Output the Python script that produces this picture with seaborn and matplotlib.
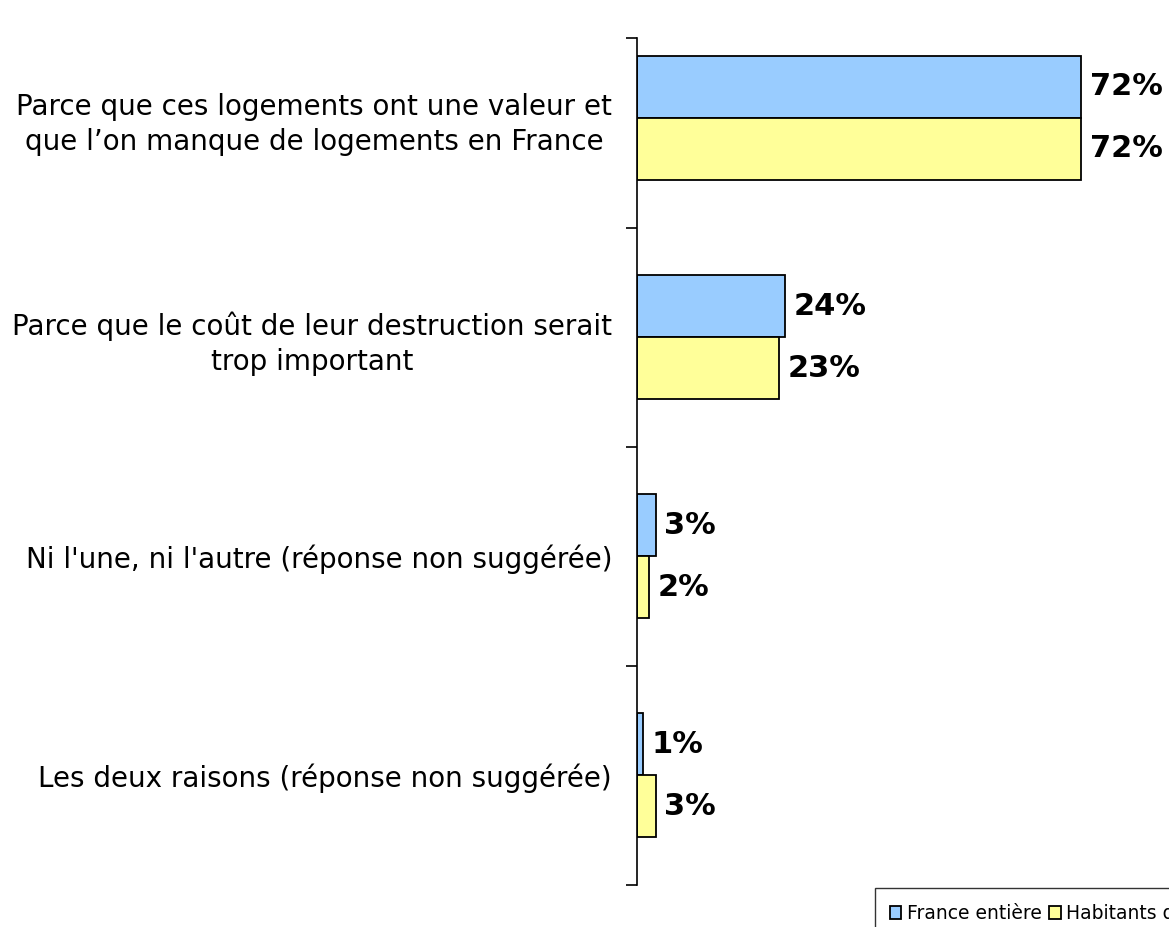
import matplotlib
matplotlib.use("Agg")
import matplotlib.pyplot as plt
import seaborn as sns
import pandas as pd

categories = [
    "Parce que ces logements ont une valeur et\nque l\u2019on manque de logements en France",
    "Parce que le co\u00fbt de leur destruction serait\ntrop important",
    "Ni l'une, ni l'autre (r\u00e9ponse non sugg\u00e9r\u00e9e)",
    "Les deux raisons (r\u00e9ponse non sugg\u00e9r\u00e9e)",
]
series = ["France enti\u00e8re", "Habitants des quartiers concern\u00e9s"]
france = [72, 24, 3, 1]
habitants = [72, 23, 2, 3]
colors = ["#99CCFF", "#FFFF99"]

df = pd.DataFrame({
    "cat": categories * 2,
    "serie": [series[0]] * 4 + [series[1]] * 4,
    "val": france + habitants,
})

sns.set_style("white")
plt.rcParams["font.family"] = ["DejaVu Sans"]
plt.rcParams["text.color"] = "black"
plt.rcParams["ytick.color"] = "black"
plt.rcParams["ytick.labelcolor"] = "black"

fig = plt.figure(figsize=(11.69, 9.27), dpi=100)
ax = fig.add_axes([637 / 1169, 1 - 885 / 927, 1 - 637 / 1169, (885 - 38) / 927])

sns.barplot(data=df, y="cat", x="val", hue="serie", orient="h",
            palette=colors, saturation=1, width=0.566, edgecolor="black", linewidth=1.3,
            ax=ax, legend=True)

for cont in ax.containers:
    ax.bar_label(cont, labels=[f"{v:.0f}%" for v in cont.datavalues],
                 padding=6, fontsize=22, fontweight="bold", color="black")

top = -0.365
ax.set_xlim(0, 86.2)
ax.set_ylim(3.5, top)
ax.set_xlabel("")
ax.set_ylabel("")
ax.set_xticks([])
for s in ["top", "right", "bottom"]:
    ax.spines[s].set_visible(False)
ax.spines["left"].set_color("black")
ax.spines["left"].set_linewidth(1.2)

ax.set_yticks(range(len(categories)))
ax.set_yticklabels(categories, fontsize=20, multialignment="center", color="black",
                   linespacing=1.33)
ax.tick_params(axis="y", which="major", length=0, pad=18)
ax.set_yticks([top, 0.5, 1.5, 2.5, 3.5], minor=True)
ax.tick_params(axis="y", which="minor", length=8, width=1.2, color="black", left=True)

# legend sits partly outside the figure, like the original export
handles, labels = ax.get_legend_handles_labels()
ax.get_legend().remove()
leg = fig.legend(handles, labels, loc="upper left", bbox_to_anchor=(875 / 1169, 1 - 888 / 927),
                 ncol=2, fontsize=13.5, frameon=True, fancybox=False, edgecolor="black",
                 handlelength=0.6, handleheight=0.7, handletextpad=0.3, columnspacing=0.4,
                 borderpad=0.8, borderaxespad=0)
leg.get_frame().set_linewidth(1.0)

fig.savefig("out.png", dpi=100)
